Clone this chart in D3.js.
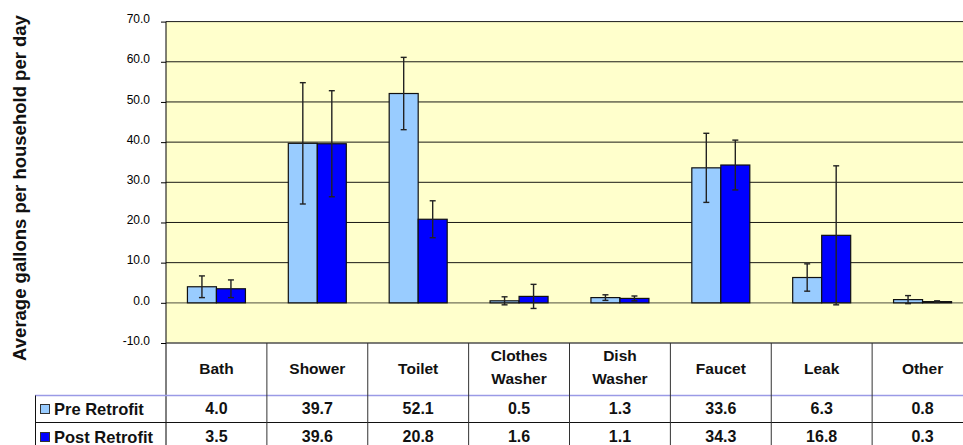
<!DOCTYPE html>
<html>
<head>
<meta charset="utf-8">
<script src="https://cdn.jsdelivr.net/npm/d3@7"></script>
<style>
  body { margin: 0; background: #fff; }
  svg { display: block; font-family: "Liberation Sans", Arial, sans-serif; }
</style>
</head>
<body>
<div id="chart"></div>
<script>
var categories = ["Bath", "Shower", "Toilet", "Clothes Washer", "Dish Washer", "Faucet", "Leak", "Other"];
var seriesNames = ["Pre Retrofit", "Post Retrofit"];
var preRetrofit = [4.0, 39.7, 52.1, 0.5, 1.3, 33.6, 6.3, 0.8];
var postRetrofit = [3.5, 39.6, 20.8, 1.6, 1.1, 34.3, 16.8, 0.3];
// half-length of the error bars
var preError = [2.7, 15.1, 9.0, 1.0, 0.7, 8.6, 3.4, 1.0];
var postError = [2.2, 13.2, 4.6, 3.0, 0.6, 6.2, 17.3, 0.2];
var yTicks = [-10, 0, 10, 20, 30, 40, 50, 60, 70];
var yTitle = "Average gallons per household per day";

var width = 963, height = 445;
var plot = { left: 166, right: 973, top: 21.6, bottom: 343 };
var colors = ["#99ccff", "#0000ff"];
var fmt = function(v) { return d3.format(".1f")(v).replace("\u2212", "-"); };

var svg = d3.select("#chart").append("svg")
    .attr("width", width)
    .attr("height", height);

var x = d3.scaleBand()
    .domain(categories)
    .range([plot.left, plot.right]);

var y = d3.scaleLinear()
    .domain([-10, 70])
    .range([plot.bottom, plot.top]);

var barW = 29;

// plot background
svg.append("rect")
    .attr("x", plot.left)
    .attr("y", plot.top)
    .attr("width", plot.right - plot.left)
    .attr("height", plot.bottom - plot.top)
    .attr("fill", "#ffffcc");

// grid lines
svg.append("g")
    .selectAll("line")
    .data(yTicks)
    .enter().append("line")
    .attr("x1", plot.left)
    .attr("x2", plot.right)
    .attr("y1", function(d) { return y(d); })
    .attr("y2", function(d) { return y(d); })
    .attr("stroke", function(d) { return d === -10 ? "#555" : "#000"; })
    .attr("stroke-width", function(d) { return d === 0 ? 1.3 : 1; })
    .attr("stroke-opacity", function(d) { return d === 0 ? 0.55 : 0.9; });

// y axis
var yAxis = d3.axisLeft(y)
    .tickValues(yTicks)
    .tickSize(5)
    .tickFormat(fmt);

var ya = svg.append("g")
    .attr("transform", "translate(" + plot.left + ",0)")
    .call(yAxis);
ya.select(".domain").remove();
ya.selectAll(".tick line").attr("stroke", "#000");
ya.selectAll(".tick text")
    .attr("x", -16)
    .attr("dy", "0.1em")
    .attr("fill", "#000")
    .style("font-size", "12px")
    .style("font-family", "'Liberation Sans', Arial, sans-serif");

// axis line runs down through the data table
svg.append("line")
    .attr("x1", plot.left).attr("x2", plot.left)
    .attr("y1", plot.top).attr("y2", height)
    .attr("stroke", "#000");

// y title
svg.append("text")
    .attr("transform", "translate(26," + 188 + ") rotate(-90)")
    .attr("text-anchor", "middle")
    .style("font-size", "18.5px")
    .style("font-weight", "bold")
    .attr("fill", "#111")
    .text(yTitle);

// bars
var series = [
    { name: seriesNames[0], values: preRetrofit, err: preError, offset: -barW },
    { name: seriesNames[1], values: postRetrofit, err: postError, offset: 0 }
];

series.forEach(function(s, si) {
    var g = svg.append("g").attr("class", "series");
    var center = function(i) { return x(categories[i]) + x.bandwidth() / 2; };

    g.selectAll("rect")
        .data(s.values)
        .enter().append("rect")
        .attr("x", function(d, i) { return center(i) + s.offset; })
        .attr("y", function(d) { return y(Math.max(0, d)); })
        .attr("width", barW)
        .attr("height", function(d) { return Math.abs(y(d) - y(0)); })
        .attr("fill", colors[si])
        .attr("stroke", "#111")
        .attr("stroke-width", 1.2);

    // error bars
    var eb = g.selectAll("g.err")
        .data(s.values)
        .enter().append("g")
        .attr("class", "err")
        .attr("stroke", "#222")
        .attr("stroke-width", 1.4);

    eb.append("line")
        .attr("x1", function(d, i) { return center(i) + s.offset + barW / 2; })
        .attr("x2", function(d, i) { return center(i) + s.offset + barW / 2; })
        .attr("y1", function(d, i) { return y(d + s.err[i]); })
        .attr("y2", function(d, i) { return y(d - s.err[i]); });

    [1, -1].forEach(function(sign) {
        eb.append("line")
            .attr("x1", function(d, i) { return center(i) + s.offset + barW / 2 - 3; })
            .attr("x2", function(d, i) { return center(i) + s.offset + barW / 2 + 3; })
            .attr("y1", function(d, i) { return y(d + sign * s.err[i]); })
            .attr("y2", function(d, i) { return y(d + sign * s.err[i]); });
    });
});

// data table under the plot
var rowTop = [plot.bottom, 395.5, 422.5, 450.5];
var tableLeft = 35;
var tg = svg.append("g").attr("class", "table");

// horizontal rules
tg.append("line")
    .attr("x1", plot.left).attr("x2", width)
    .attr("y1", rowTop[0]).attr("y2", rowTop[0])
    .attr("stroke", "#444");
tg.append("line")
    .attr("x1", tableLeft).attr("x2", width)
    .attr("y1", rowTop[1]).attr("y2", rowTop[1])
    .attr("stroke", "#9a9ae6").attr("stroke-width", 1.6);
tg.append("line")
    .attr("x1", tableLeft).attr("x2", width)
    .attr("y1", rowTop[2]).attr("y2", rowTop[2])
    .attr("stroke", "#111");
tg.append("line")
    .attr("x1", tableLeft + 0.5).attr("x2", tableLeft + 0.5)
    .attr("y1", rowTop[1]).attr("y2", height)
    .attr("stroke", "#111");

// column separators
tg.selectAll("line.col")
    .data(categories.slice(1))
    .enter().append("line")
    .attr("class", "col")
    .attr("x1", function(d) { return x(d); })
    .attr("x2", function(d) { return x(d); })
    .attr("y1", rowTop[0])
    .attr("y2", height)
    .attr("stroke", "#333");

// category headers
tg.selectAll("text.cat")
    .data(categories)
    .enter().append("text")
    .attr("class", "cat")
    .attr("text-anchor", "middle")
    .style("font-size", "15.5px")
    .style("font-weight", "bold")
    .attr("fill", "#111")
    .each(function(d) {
        var words = d.split(" ");
        var cx = x(d) + x.bandwidth() / 2;
        var t = d3.select(this);
        var y0 = words.length > 1 ? 361 : 374;
        words.forEach(function(w, k) {
            t.append("tspan")
                .attr("x", cx)
                .attr("y", y0 + k * 22.5)
                .text(w);
        });
    });

// value rows
var rowBase = [414, 442];
series.forEach(function(s, si) {
    tg.selectAll("text.v" + si)
        .data(s.values)
        .enter().append("text")
        .attr("class", "v" + si)
        .attr("x", function(d, i) { return x(categories[i]) + x.bandwidth() / 2; })
        .attr("y", rowBase[si])
        .attr("text-anchor", "middle")
        .style("font-size", "16px")
        .style("font-weight", "bold")
        .attr("fill", "#111")
        .text(function(d) { return fmt(d); });

    // legend key + name
    tg.append("rect")
        .attr("x", 40.5)
        .attr("y", rowBase[si] - 9.5)
        .attr("width", 9)
        .attr("height", 9)
        .attr("fill", colors[si])
        .attr("stroke", "#333");
    tg.append("text")
        .attr("x", 54)
        .attr("y", rowBase[si] + 1)
        .style("font-size", "16.5px")
        .style("font-weight", "bold")
        .attr("fill", "#111")
        .text(s.name);
});
</script>
</body>
</html>
